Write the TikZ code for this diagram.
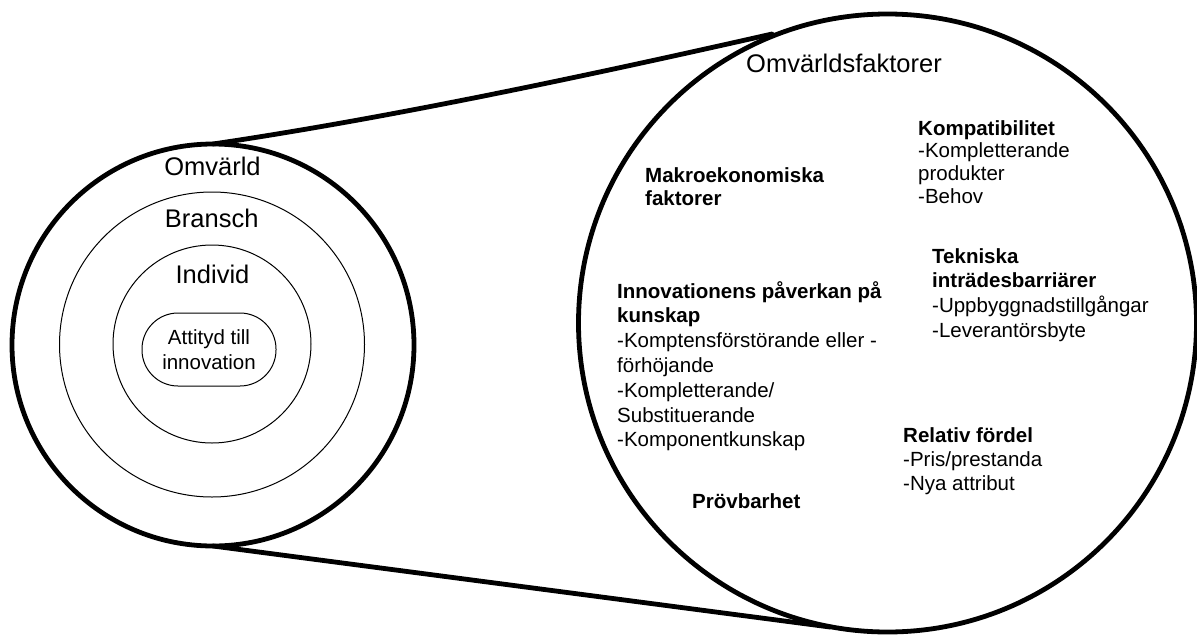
\documentclass[tikz,border=0pt]{standalone}
\usepackage{fontspec}
\setmainfont{Liberation Sans}
\begin{document}
\begin{tikzpicture}[x=1pt,y=-1pt,
  thick ring/.style={circle,draw,line width=4.8pt,inner sep=0pt,outer sep=0pt},
  thin ring/.style={circle,draw,line width=1pt,inner sep=0pt,outer sep=0pt},
  biglabel/.style={font=\fontsize{25.5}{30}\selectfont,inner sep=0pt,anchor=base},
  % multi-line text blocks: the base anchor sits on the baseline of the last line
  body/.style={font=\fontsize{20.5}{#1}\selectfont,align=left,inner sep=0pt,anchor=base west},
  body/.default=24.5,
  connector/.style={line width=4.8pt,line cap=round}]
\useasboundingbox (0,0) rectangle (1197,635);

% nested rings on the left
\node[thick ring,minimum size=402pt] (omv) at (213,345) {};
\node[thin ring,minimum size=305pt] (bra) at (212,344.5) {};
\node[thin ring,minimum size=198pt] (ind) at (212,344) {};
\node[draw,line width=1pt,rounded corners=36pt,minimum width=134pt,minimum height=73pt,
      inner sep=0pt,align=center,font=\fontsize{20.5}{24.4}\selectfont] (att) at (209,349.5)
      {Attityd till\\innovation};

\node[biglabel] (omvlbl) at (212.5,175.7) {Omvärld};
\node[biglabel] (bralbl) at (211.7,227.7) {Bransch};
\node[biglabel] (indlbl) at (212.5,283.3) {Individ};

% magnified environment circle
\node[thick ring,minimum size=618pt] (fak) at (887.5,323) {};

% connectors from the small ring to the magnified circle
\coordinate (ue) at (772,34);
\coordinate (le) at (830,627);
\draw[connector] (omv.north) .. controls (375,120) and (560,82) .. (ue);
\draw[connector] (omv.south) -- (le);

% texts in the magnified circle
\node[biglabel,anchor=base west] (title) at (746,72) {Omvärldsfaktorer};

\node[body=23] (makro) at (645,205)
  {\textbf{Makroekonomiska}\\\textbf{faktorer}};

\node[body=24.8] (innov) at (617,446.8)
  {\textbf{Innovationens påverkan på}\\\textbf{kunskap}\\
   -Komptensförstörande eller -\\förhöjande\\-Kompletterande/\\
   Substituerande\\-Komponentkunskap};

\node[body] (prov) at (692,508) {\textbf{Prövbarhet}};

\node[body=22.7] (kompat) at (918,203.1)
  {\textbf{Kompatibilitet}\\-Kompletterande\\produkter\\-Behov};

\node[body=24.7] (tekn) at (932,337.1)
  {\textbf{Tekniska}\\\textbf{inträdesbarriärer}\\-Uppbyggnadstillgångar\\-Leverantörsbyte};

\node[body=24] (rel) at (903,490)
  {\textbf{Relativ fördel}\\-Pris/prestanda\\-Nya attribut};
\end{tikzpicture}
\end{document}
